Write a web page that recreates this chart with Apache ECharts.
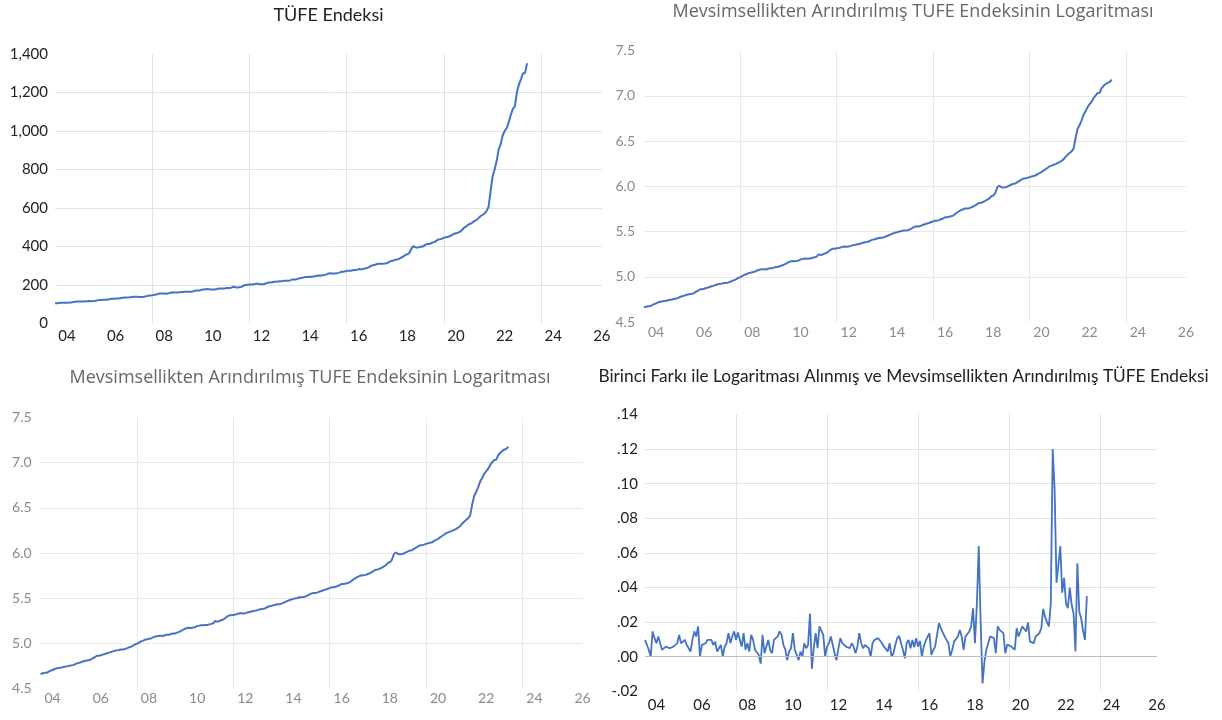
<!DOCTYPE html>
<html>
<head>
<meta charset="utf-8">
<script src="https://cdn.jsdelivr.net/npm/echarts@6/dist/echarts.min.js"></script>
<style>
html,body{margin:0;padding:0;background:#ffffff;}
#c{width:1222px;height:720px;}
</style>
</head>
<body>
<div id="c"></div>
<script>
// Monthly data, January 2004 - June 2023
const startYear = 2004;

const xTickLabels = ['04','06','08','10','12','14','16','18','20','22','24','26'];

const titles = [
  'TÜFE Endeksi',
  'Mevsimsellikten Arındırılmış TUFE Endeksinin Logaritması',
  'Mevsimsellikten Arındırılmış TUFE Endeksinin Logaritması',
  'Birinci Farkı ile Logaritması Alınmış ve Mevsimsellikten Arındırılmış TÜFE Endeksi'
];

// TÜFE index (2003=100)
const cpi = [
  105.2,105.8,106.8,107.3,107.7,107.8,108.0,108.6,109.6,112.0,113.5,113.9,
  114.2,114.3,114.6,115.5,116.2,116.3,116.2,117.1,118.1,120.1,121.6,122.7,
  123.6,124.0,124.4,126.5,128.4,128.6,130.1,129.7,131.0,133.0,134.5,134.5,
  135.2,136.2,137.8,139.4,139.6,138.6,137.7,137.6,138.9,141.3,144.0,145.8,
  146.9,148.8,150.3,154.0,156.0,155.6,156.1,155.0,156.8,160.3,161.8,160.4,
  160.9,161.3,163.9,163.8,164.9,164.6,164.3,164.6,166.0,169.6,171.8,170.9,
  174.1,176.6,177.6,178.7,178.0,177.0,176.2,176.9,179.1,182.4,182.4,181.9,
  182.6,183.9,184.7,186.3,190.8,188.1,187.3,188.7,190.1,196.3,199.7,200.9,
  202.0,203.1,203.9,207.1,206.6,204.8,204.3,205.4,207.6,211.6,212.4,213.2,
  216.7,217.4,218.8,219.8,220.1,221.8,222.4,222.2,223.9,228.0,228.0,229.0,
  233.5,234.5,237.2,240.4,241.3,242.1,243.2,243.4,243.7,248.4,248.8,247.7,
  250.5,252.2,255.2,259.4,260.9,259.5,259.8,260.8,263.1,267.2,269.0,269.5,
  274.5,274.4,274.3,276.4,278.0,279.3,282.6,281.8,282.3,286.3,287.8,292.5,
  299.7,302.2,305.2,309.2,310.6,309.8,310.3,311.9,313.9,320.4,325.2,327.4,
  330.8,333.2,336.5,342.8,348.3,357.4,359.4,367.7,390.8,401.3,395.5,393.9,
  398.1,398.7,402.8,409.6,413.5,413.6,419.3,422.9,427.0,435.6,437.2,440.5,
  446.5,448.0,450.6,454.4,460.6,465.8,468.5,472.5,477.1,487.3,498.5,504.8,
  513.3,518.0,523.6,532.3,537.1,547.5,557.4,563.6,570.7,584.3,604.8,687.0,
  763.2,799.9,843.6,904.8,931.8,977.9,1001.0,1015.7,1046.9,1084.0,1115.2,1128.5,
  1203.5,1241.3,1269.8,1300.0,1300.6,1351.6
];

// Log of seasonally adjusted TÜFE
const logSA = [
  4.658,4.669,4.673,4.673,4.687,4.697,4.705,4.716,4.723,4.727,4.731,4.735,
  4.741,4.745,4.749,4.754,4.759,4.766,4.777,4.784,4.791,4.799,4.805,4.809,
  4.812,4.821,4.835,4.846,4.862,4.862,4.868,4.875,4.882,4.890,4.897,4.905,
  4.911,4.919,4.922,4.926,4.932,4.932,4.937,4.944,4.956,4.963,4.974,4.987,
  4.996,5.009,5.022,5.027,5.040,5.044,5.051,5.054,5.066,5.075,5.079,5.083,
  5.084,5.080,5.092,5.094,5.095,5.104,5.108,5.110,5.119,5.127,5.137,5.149,
  5.162,5.169,5.173,5.171,5.174,5.179,5.192,5.196,5.201,5.199,5.202,5.202,
  5.210,5.215,5.222,5.247,5.240,5.245,5.258,5.263,5.281,5.298,5.310,5.310,
  5.314,5.318,5.324,5.332,5.333,5.331,5.334,5.341,5.347,5.352,5.357,5.362,
  5.367,5.375,5.381,5.383,5.389,5.402,5.410,5.415,5.422,5.428,5.432,5.432,
  5.440,5.450,5.458,5.469,5.479,5.486,5.492,5.499,5.502,5.510,5.510,5.512,
  5.519,5.530,5.542,5.553,5.557,5.556,5.564,5.574,5.579,5.589,5.594,5.605,
  5.611,5.620,5.620,5.626,5.635,5.644,5.657,5.658,5.662,5.668,5.675,5.694,
  5.710,5.724,5.736,5.746,5.754,5.754,5.758,5.767,5.776,5.788,5.803,5.815,
  5.818,5.828,5.838,5.851,5.866,5.890,5.897,5.925,5.988,6.006,5.990,5.986,
  5.990,5.995,6.006,6.018,6.028,6.030,6.046,6.060,6.073,6.085,6.087,6.093,
  6.101,6.107,6.114,6.118,6.134,6.145,6.157,6.173,6.188,6.202,6.220,6.228,
  6.237,6.245,6.256,6.267,6.280,6.297,6.324,6.347,6.367,6.385,6.416,6.536,
  6.633,6.676,6.729,6.793,6.830,6.876,6.907,6.935,6.975,7.005,7.030,7.033,
  7.085,7.110,7.130,7.145,7.152,7.178
];

// First difference of the log of seasonally adjusted TÜFE
const dlog = [
  0.0097,0.0107,0.004,0.0,0.0146,0.0107,0.0078,0.0117,0.0078,0.004,0.0049,0.0058,
  0.0058,0.0049,0.004,0.0058,0.0049,0.0078,0.0126,0.0078,0.0078,0.0097,0.0068,0.0049,
  0.003,0.0097,0.0146,0.0117,0.0175,0.0,0.0068,0.0078,0.0078,0.0097,0.0087,0.0097,
  0.0068,0.0087,0.003,0.0049,0.0068,0.0,0.0058,0.0078,0.0136,0.0078,0.0117,0.0146,
  0.0097,0.014,0.0136,0.0058,0.0136,0.004,0.0078,0.003,0.0126,0.0097,0.004,0.0049,
  0.001,-0.004,0.0126,0.002,0.001,
  0.0097,0.004,0.002,0.0097,0.0097,0.0117,0.0146,0.0126,0.0068,0.004,-0.002,0.003,
  0.0049,0.0136,0.004,0.0049,-0.002,0.003,0.0,0.0078,0.0049,0.0068,0.025,-0.007,
  0.0049,0.0136,0.0049,0.0175,0.017,0.0126,0.0,
  0.0058,0.0078,0.0117,0.0126,0.002,-0.002,0.0049,0.0107,0.0078,0.0068,0.0058,0.0068,
  0.0049,0.0078,0.0058,0.002,0.0058,0.0136,0.0078,0.0049,0.0068,0.0058,0.0049,0.0,
  0.0078,0.0097,0.0087,0.0107,0.0097,0.0078,0.0058,0.0068,0.003,0.0078,0.0,0.002,0.0068,
  0.0107,0.012,0.0117,0.004,-0.001,0.008,0.0097,0.0049,0.0097,0.0054,0.0107,0.0058,
  0.0091,0.0,0.0058,0.0091,0.0091,0.0136,0.001,0.0039,0.0058,0.0068,0.0194,0.0165,
  0.014,0.0117,0.0097,0.0078,0.0004,0.0039,0.0087,0.0087,0.0117,0.0155,0.0117,0.0039,
  0.0117,0.012,0.0146,0.0175,0.028,0.0078,0.03,
  0.064,0.02,-0.0155,-0.003,0.004,0.005,0.0117,0.0126,0.0107,0.002,0.0175,0.0155,
  0.0146,0.0136,0.002,0.007,0.0078,0.006,0.007,0.004,0.0165,0.0117,0.0126,0.0175,
  0.0165,0.0146,0.0198,0.0087,0.0087,0.0078,0.0117,0.0107,0.0136,0.0165,0.0276,0.023,
  0.02,0.0175,0.031,0.12,0.097,0.0427,0.053,0.064,0.037,0.0456,0.031,0.028,
  0.04,0.03,0.025,0.003,0.054,0.026,0.0223,0.015,0.0097,0.035
];

const toSeries = arr => arr.map((v, i) => [startYear + i / 12, v]);

const FONT = 'Lato, "Open Sans", sans-serif';
const DARK = '#222222';
const GREY_TXT = '#8a8a8a';
const GRID_DARK = '#e2e2e2';
const GRID_SOFT = '#e8e8e8';
const LINE = '#4472C4';

const grids = [
  {left: 55,    top: 54,    width: 547, height: 269.5},
  {left: 644,   top: 50.5,  width: 542, height: 271.5},
  {left: 40.6,  top: 417.5, width: 542, height: 271},
  {left: 645,   top: 414.5, width: 512, height: 276.8}
];

function labelAxis(g, shift, color, size, margin) {
  return {
    type: 'value', gridIndex: g, min: 2004, max: 2026.5, interval: 2, position: 'bottom',
    axisLine: {show: false, onZero: false}, axisTick: {show: false}, splitLine: {show: false},
    axisLabel: {
      formatter: v => xTickLabels[Math.round((v - 2004) / 2)] || '',
      color: color, fontSize: size, fontFamily: FONT, margin: margin,
      padding: [0, 0, 0, shift * 2]
    }
  };
}
function gridAxis(g, color) {
  return {
    type: 'value', gridIndex: g, min: 2004, max: 2026.5, interval: 4, position: 'top',
    axisLine: {show: false, onZero: false}, axisTick: {show: false}, axisLabel: {show: false},
    splitLine: {show: true, showMinLine: false, showMaxLine: false, lineStyle: {color: color, width: 1}}
  };
}
function yAxis(g, min, max, interval, fmt, color, size, margin, gridColor, padB) {
  return {
    type: 'value', gridIndex: g, min: min, max: max, interval: interval,
    axisLine: {show: false}, axisTick: {show: false},
    splitLine: {show: true, showMinLine: false, showMaxLine: false, lineStyle: {color: gridColor, width: 1}},
    axisLabel: {formatter: fmt, color: color, fontSize: size, fontFamily: FONT, margin: margin,
                padding: [0, 0, padB, 0]}
  };
}
function titleAt(text, cx, top, size, color, family) {
  return {text: text, left: cx, top: top, textAlign: 'center', padding: 0,
          textStyle: {fontSize: size, fontWeight: 'normal', color: color, fontFamily: family}};
}

const fmtCpi = v => Math.round(v).toLocaleString('en-US');
const fmtLog = v => v.toFixed(1);
const fmtDiff = v => { const s = v.toFixed(2); return s.replace('0.', '.'); };

const option = {
  animation: false,
  backgroundColor: '#ffffff',
  title: [
    titleAt(titles[0], 328.5, 6, 18, DARK, FONT),
    titleAt(titles[1], 913, 2.5, 18, '#666666', '"Open Sans", sans-serif'),
    titleAt(titles[2], 310, 368.5, 18, '#666666', '"Open Sans", sans-serif'),
    titleAt(titles[3], 903.5, 367.5, 17.3, DARK, FONT)
  ],
  grid: grids,
  xAxis: [
    labelAxis(0, 12, DARK, 15, 5), gridAxis(0, GRID_DARK),
    labelAxis(1, 12, GREY_TXT, 14, 3), gridAxis(1, GRID_SOFT),
    labelAxis(2, 12, GREY_TXT, 14, 3), gridAxis(2, GRID_SOFT),
    labelAxis(3, 11.4, DARK, 15, 6), gridAxis(3, GRID_DARK)
  ],
  yAxis: [
    yAxis(0, 0, 1400, 200, fmtCpi, DARK, 15, 7, GRID_DARK, 4),
    yAxis(1, 4.5, 7.5, 0.5, fmtLog, GREY_TXT, 14, 9, GRID_SOFT, 9),
    yAxis(2, 4.5, 7.5, 0.5, fmtLog, GREY_TXT, 14, 9, GRID_SOFT, 9),
    yAxis(3, -0.02, 0.14, 0.02, fmtDiff, DARK, 15, 7, GRID_DARK, 0)
  ],
  series: [
    {type: 'line', xAxisIndex: 0, yAxisIndex: 0, data: toSeries(cpi), showSymbol: false,
     lineStyle: {color: LINE, width: 2}, itemStyle: {color: LINE}},
    {type: 'line', xAxisIndex: 2, yAxisIndex: 1, data: toSeries(logSA), showSymbol: false,
     lineStyle: {color: '#4a72c2', width: 2}, itemStyle: {color: '#4a72c2'}},
    {type: 'line', xAxisIndex: 4, yAxisIndex: 2, data: toSeries(logSA), showSymbol: false,
     lineStyle: {color: '#4a72c2', width: 2}, itemStyle: {color: '#4a72c2'}},
    {type: 'line', xAxisIndex: 6, yAxisIndex: 3, data: toSeries(dlog), showSymbol: false,
     lineStyle: {color: LINE, width: 1.8}, itemStyle: {color: LINE},
     markLine: {silent: true, symbol: 'none', label: {show: false},
                lineStyle: {color: '#bfbfbf', type: 'solid', width: 1},
                data: [{yAxis: 0}]}}
  ]
};

const chart = echarts.init(document.getElementById('c'), null, {renderer: 'canvas'});
chart.setOption(option);
</script>
</body>
</html>
